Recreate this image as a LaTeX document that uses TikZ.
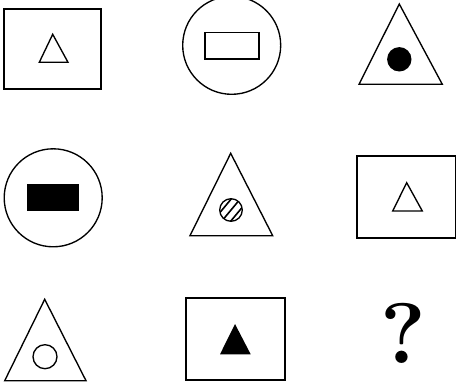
\documentclass[tikz,border=0pt]{standalone}
\usetikzlibrary{patterns}
\begin{document}
\begin{tikzpicture}[x=1pt,y=-1pt,
  outline/.style={draw=black,line width=1.7pt,line join=miter},
  thin/.style={draw=black,line width=1.35pt}]
\useasboundingbox (0,0) rectangle (456,391);
\begin{scope}
\clip (0,0) rectangle (456,391);
% Row 1
\draw[outline] (4,9) rectangle (101,89);
\draw[thin] (52.7,34.3) -- (68,62.3) -- (39.3,62.3) -- cycle;
\draw[thin] (231.7,45.3) circle (49);
\draw[thin] (205,32.3) rectangle (259,59);
\draw[thin] (399.3,4) -- (442.3,84.3) -- (359,84.3) -- cycle;
\fill (399.3,59.3) circle (12.2);
% Row 2
\draw[thin] (53.2,197.8) circle (49);
\fill (27,184) rectangle (79,211.3);
\draw[thin] (230.7,153.3) -- (272.7,235.7) -- (190,235.7) -- cycle;
\begin{scope}
\clip (231,210) circle (11.3);
\foreach \d in {-9,0,9}
  \draw[line width=1.6pt] (231+\d-10,222) -- (231+\d+10,198);
\end{scope}
\draw[thin] (231,210) circle (11.3);
\draw[outline] (357.3,156) rectangle (455.7,238.3);
\draw[thin] (406.7,182.7) -- (422.3,211) -- (392.7,211) -- cycle;
% Row 3
\draw[thin] (44.7,299.3) -- (86,380.7) -- (4.7,380.7) -- cycle;
\draw[thin] (45,356.7) circle (12);
\draw[outline] (186,298.3) rectangle (285.3,380);
\fill (235,324) -- (250.7,354.3) -- (220,354.3) -- cycle;
\node[inner sep=0pt,font=\fontsize{86}{86}\selectfont\bfseries] (q) at (403,333.7) {?};
\end{scope}
\end{tikzpicture}
\end{document}
